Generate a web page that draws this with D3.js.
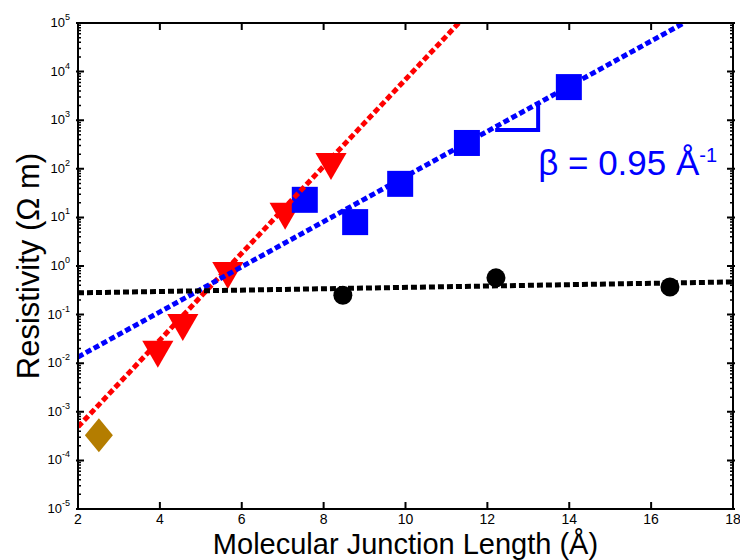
<!DOCTYPE html>
<html>
<head>
<meta charset="utf-8">
<script src="https://cdn.jsdelivr.net/npm/d3@7"></script>
<style>
  body { margin: 0; background: #fff; }
  svg { display: block; font-family: "Liberation Sans", Arial, sans-serif; }
</style>
</head>
<body>
<svg id="chart" width="740" height="560"></svg>
<script>
// data
var triangles = [[3.95, 0.019], [4.56, 0.067], [5.66, 0.79], [7.06, 13], [8.18, 138]];
var squares = [[7.54, 23], [8.77, 8.0], [9.87, 49], [11.5, 340], [13.99, 4800]];
var circles = [[8.47, 0.25], [12.21, 0.57], [16.46, 0.37]];
var diamonds = [[2.51, 3.3e-4]];

// fitted lines, two end points each
var redFit = [[2, 4.9e-4], [11.3, 1e5]];
var blueFit = [[2, 0.0134], [16.8, 1e5]];
var blackFit = [[2, 0.28], [18, 0.47]];

// slope triangle annotation on the blue fit
var slopeTri = [[12.19, 630], [13.24, 630], [13.24, 2050]];

var xTicks = [2, 4, 6, 8, 10, 12, 14, 16, 18];
var yExps = [-5, -4, -3, -2, -1, 0, 1, 2, 3, 4, 5];

var svg = d3.select("#chart"),
    margin = {top: 23, right: 7, bottom: 51, left: 78},
    width = 740 - margin.left - margin.right,
    height = 560 - margin.top - margin.bottom,
    g = svg.append("g").attr("transform", "translate(" + margin.left + "," + margin.top + ")");

var x = d3.scaleLinear().domain([2, 18]).range([0, width]);
var y = d3.scaleLog().domain([1e-5, 1e5]).range([height, 0]);

g.append("clipPath").attr("id", "clip")
  .append("rect").attr("width", width).attr("height", height);

// minor + major ticks, inside the frame
var minor = [];
yExps.slice(0, -1).forEach(function(e) {
  for (var k = 2; k <= 9; k++) minor.push(k * Math.pow(10, e));
});

var ticks = g.append("g").attr("stroke", "#000");
ticks.selectAll(".ymin").data(minor).enter().append("path")
    .attr("d", function(d) { return "M0," + y(d) + "h3M" + width + "," + y(d) + "h-3"; })
    .attr("stroke-width", 1.5);
ticks.selectAll(".ymaj").data(yExps).enter().append("path")
    .attr("d", function(d) { var p = y(Math.pow(10, d)); return "M-2," + p + "h8M" + (width + 2) + "," + p + "h-8"; })
    .attr("stroke-width", 2);
ticks.selectAll(".xmaj").data(xTicks).enter().append("path")
    .attr("d", function(d) { return "M" + x(d) + "," + height + "v-7M" + x(d) + ",0v7"; })
    .attr("stroke-width", 2);

// tick labels
g.append("g").selectAll("text").data(xTicks).enter().append("text")
    .attr("x", function(d) { return x(d); })
    .attr("y", height + 15)
    .attr("text-anchor", "middle")
    .attr("font-size", 14)
    .text(function(d) { return d; });

var yl = g.append("g").selectAll("text").data(yExps).enter().append("text")
    .attr("x", -8)
    .attr("y", function(d) { return y(Math.pow(10, d)) + 4; })
    .attr("text-anchor", "end")
    .attr("font-size", 13);
yl.append("tspan").text("10");
yl.append("tspan").attr("dy", -7).attr("font-size", 9).text(function(d) { return d; });

// markers
var marks = g.append("g").attr("clip-path", "url(#clip)");
var tri = d3.symbol().type(d3.symbolTriangle).size(420);
marks.selectAll(".tri").data(triangles).enter().append("path")
    .attr("d", tri)
    .attr("transform", function(d) { return "translate(" + x(d[0]) + "," + y(d[1]) + ") rotate(180)"; })
    .attr("fill", "#ff0000");
marks.selectAll(".sq").data(squares).enter().append("rect")
    .attr("x", function(d) { return x(d[0]) - 13; })
    .attr("y", function(d) { return y(d[1]) - 13; })
    .attr("width", 26).attr("height", 26)
    .attr("fill", "#0000ff");
marks.selectAll(".dot").data(circles).enter().append("circle")
    .attr("cx", function(d) { return x(d[0]); })
    .attr("cy", function(d) { return y(d[1]); })
    .attr("r", 9.5)
    .attr("fill", "#000");
marks.selectAll(".dia").data(diamonds).enter().append("path")
    .attr("d", "M0,-17L14,0L0,17L-14,0Z")
    .attr("transform", function(d) { return "translate(" + x(d[0]) + "," + y(d[1]) + ")"; })
    .attr("fill", "#b47d00");

// fit lines
var line = d3.line().x(function(d) { return x(d[0]); }).y(function(d) { return y(d[1]); });
var fits = g.append("g").attr("clip-path", "url(#clip)").attr("fill", "none");
[[redFit, "#ff0000"], [blueFit, "#0000ff"], [blackFit, "#000"]].forEach(function(f) {
  fits.append("path").datum(f[0])
      .attr("d", line)
      .attr("stroke", f[1])
      .attr("stroke-width", 5)
      .attr("stroke-dasharray", "6,3");
});

g.append("path").datum(slopeTri)
    .attr("d", line)
    .attr("fill", "none")
    .attr("stroke", "#0000ff")
    .attr("stroke-width", 4);

var beta = g.append("text")
    .attr("x", x(13.24))
    .attr("y", 152)
    .attr("font-size", 35)
    .attr("fill", "#0000ff");
beta.append("tspan").text("\u03b2 = 0.95 \u00c5");
beta.append("tspan").attr("dy", -13).attr("font-size", 20).text("-1");

// frame
g.append("rect")
    .attr("width", width).attr("height", height)
    .attr("fill", "none").attr("stroke", "#000").attr("stroke-width", 2);

// axis titles
svg.append("text")
    .attr("x", margin.left + width / 2)
    .attr("y", 554)
    .attr("text-anchor", "middle")
    .attr("font-size", 29)
    .text("Molecular Junction Length (\u00c5)");

svg.append("text")
    .attr("transform", "translate(39," + (margin.top + height / 2) + ") rotate(-90)")
    .attr("text-anchor", "middle")
    .attr("font-size", 31)
    .text("Resistivity (\u03a9 m)");
</script>
</body>
</html>
